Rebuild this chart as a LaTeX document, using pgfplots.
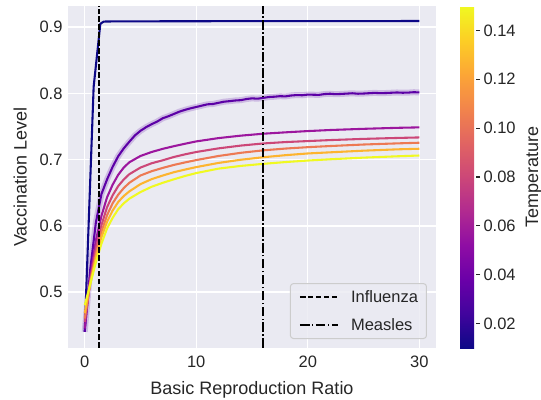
\documentclass[border=0pt]{standalone}
\usepackage{pgfplots}
\pgfplotsset{compat=1.18}
\usepackage{pgfplotstable}
\usepackage{fontspec}
\setmainfont{Liberation Sans}
\definecolor{txt}{HTML}{262626}
\definecolor{bg}{HTML}{EAEAF2}
\definecolor{c1}{HTML}{0D0887}
\definecolor{c2}{HTML}{5C01A6}
\definecolor{c3}{HTML}{9C179E}
\definecolor{c4}{HTML}{CC4778}
\definecolor{c5}{HTML}{ED7953}
\definecolor{c6}{HTML}{FDB42F}
\definecolor{c7}{HTML}{F0F921}
\pgfplotsset{colormap={plasma}{rgb255=(13,8,135) rgb255=(65,4,157) rgb255=(106,0,168) rgb255=(143,13,164) rgb255=(177,42,144) rgb255=(204,71,120) rgb255=(225,100,98) rgb255=(242,132,75) rgb255=(252,166,54) rgb255=(252,206,37) rgb255=(240,249,33)}}

\pgfplotstableread{
x    c3     c4     c5     c6     c7
0    0.445  0.455  0.460  0.468  0.480
0.5  0.522  0.518  0.515  0.513  0.512
1    0.578  0.566  0.557  0.552  0.545
1.5  0.615  0.601  0.591  0.583  0.573
2    0.643  0.628  0.616  0.606  0.596
2.5  0.662  0.646  0.634  0.623  0.612
3    0.677  0.660  0.647  0.636  0.625
3.5  0.688  0.670  0.657  0.645  0.634
4    0.696  0.678  0.665  0.652  0.641
5    0.7055 0.688  0.676  0.663  0.651
6    0.7115 0.6945 0.6825 0.6705 0.659
7    0.7163 0.699  0.6875 0.676  0.665
8    0.7203 0.704  0.692  0.681  0.6703
9    0.724  0.708  0.6958 0.685  0.6753
10   0.7275 0.7115 0.6993 0.6887 0.6797
12   0.7325 0.717  0.7055 0.695  0.6864
14   0.7362 0.7212 0.7103 0.6998 0.6905
16   0.7391 0.7244 0.714  0.7036 0.6936
18   0.7412 0.7265 0.7167 0.7067 0.6963
20   0.7431 0.728  0.7188 0.7093 0.6986
22   0.7447 0.7295 0.7205 0.711  0.7005
25   0.7465 0.7313 0.7228 0.7135 0.703
28   0.748  0.7327 0.7245 0.7155 0.705
30   0.7487 0.7335 0.7255 0.7164 0.7062
}\curves

\pgfplotstableread{
x    y
0    0.440
0.5  0.535
1    0.605
1.5  0.648
2    0.670
2.5  0.689
3    0.705
3.5  0.717
4    0.727
4.5  0.7365
5    0.7435
5.5  0.749
6    0.7535
6.5  0.7575
7    0.7625
7.5  0.7655
8    0.7690
8.5  0.7725
9    0.7752
9.5  0.7775
10   0.7795
10.5 0.7815
11   0.7835
11.5 0.7840
12   0.7858
12.5 0.7875
13   0.7883
13.5 0.7893
14   0.7898
14.5 0.7915
15   0.7925
15.5 0.7920
16   0.7932
16.5 0.7945
17   0.7950
17.5 0.7958
18   0.7955
18.5 0.7968
19   0.7975
19.5 0.7972
20   0.7982
21   0.7978
21.5 0.7990
22   0.7995
22.5 0.7988
23   0.7992
24   0.8002
24.5 0.7995
25   0.7998
26   0.8008
26.5 0.8004
27   0.8006
28   0.8014
28.5 0.8010
29   0.8012
29.5 0.8018
30   0.8015
}\indigo

\begin{document}
\begin{tikzpicture}
\begin{axis}[
  at={(68bp,52bp)}, anchor=south west,
  scale only axis, width=368bp, height=342bp,
  xmin=-1.5, xmax=31.5, ymin=0.4155, ymax=0.932,
  axis background/.style={fill=bg},
  axis line style={draw=none},
  grid=major, major grid style={white, line width=1.4bp},
  major tick length=0pt,
  xtick={0,10,20,30}, ytick={0.5,0.6,0.7,0.8,0.9},
  /pgf/number format/assume math mode=true,
  yticklabel style={/pgf/number format/fixed, /pgf/number format/precision=1, xshift=-2bp},
  xticklabel style={yshift=-4.5bp},
  tick label style={font=\fontsize{16.5bp}{19bp}\selectfont, text=txt},
  label style={font=\fontsize{18bp}{21bp}\selectfont, text=txt},
  xlabel={Basic Reproduction Ratio},
  ylabel={Vaccination Level},
  xlabel style={at={([yshift=-46.5bp]axis description cs:0.5,0)}, anchor=base},
  ylabel style={at={([xshift=-41.5bp]axis description cs:0,0.5)}, anchor=base},
  colormap name=plasma, colorbar, point meta min=0.01, point meta max=0.15,
  colorbar shift/.style={xshift=24bp},
  colorbar style={
    at={(parent axis.north east)}, anchor=north west,
    scale only axis, width=16bp, height=342bp,
    grid=none,
    axis line style={draw=none},
    ytick={0.02,0.04,0.06,0.08,0.10,0.12,0.14},
    ytick pos=right, yticklabel pos=right,
    major tick length=4bp, tick align=outside,
    tick style={txt, line width=1.1bp},
    /pgf/number format/assume math mode=true,
    yticklabel style={font=\fontsize{16.5bp}{19bp}\selectfont, text=txt,
      /pgf/number format/.cd, fixed, fixed zerofill, precision=2},
    extra description/.code={
      \node[rotate=90, anchor=base, font=\fontsize{18bp}{21bp}\selectfont, text=txt, inner sep=0pt]
        at ([xshift=62bp]axis description cs:1,0.5) {Temperature};
    },
  },
  legend style={at={(axis description cs:0.9755,0.0263)}, anchor=south east,
    fill=bg, fill opacity=0.8, draw opacity=1, text opacity=1,
    draw=black!20, rounded corners=3bp, line width=1bp,
    font=\fontsize{16.5bp}{19bp}\selectfont, text=txt,
    inner xsep=8.5bp, inner ysep=3bp, row sep=6bp,
    nodes={inner xsep=0bp, inner ysep=4bp},
    /tikz/every odd column/.append style={column sep=12bp}},
  legend cell align=left,
  legend image code/.code={\draw[#1] (0bp,0bp) -- (38bp,0bp);},
]
\addplot[c1, line width=2.08bp, forget plot] coordinates {(0,0.440) (0.8,0.810) (1.4,0.905) (1.7,0.9085) (3,0.9088) (10,0.909) (20,0.9092) (30,0.9093)};
\addplot[c2, line width=6bp, opacity=0.2, forget plot] table[x=x, y=y] {\indigo};
\addplot[c2, line width=2.08bp, forget plot] table[x=x, y=y] {\indigo};
\addplot[c3, line width=2.08bp, forget plot] table[x=x, y=c3] {\curves};
\addplot[c4, line width=2.08bp, forget plot] table[x=x, y=c4] {\curves};
\addplot[c5, line width=2.08bp, forget plot] table[x=x, y=c5] {\curves};
\addplot[c6, line width=2.08bp, forget plot] table[x=x, y=c6] {\curves};
\addplot[c7, line width=2.08bp, forget plot] table[x=x, y=c7] {\curves};
\addplot[black, line width=2.08bp, dash pattern=on 5.55bp off 2.4bp] coordinates {(1.3,0.4155) (1.3,0.932)};
\addlegendentry{Influenza}
\addplot[black, line width=2.08bp, dash pattern=on 9.6bp off 2.4bp on 1.5bp off 2.4bp] coordinates {(16,0.4155) (16,0.932)};
\addlegendentry{Measles}
\end{axis}
\pgfresetboundingbox
\path (0,0) rectangle (541bp,400bp);
\end{tikzpicture}
\end{document}
